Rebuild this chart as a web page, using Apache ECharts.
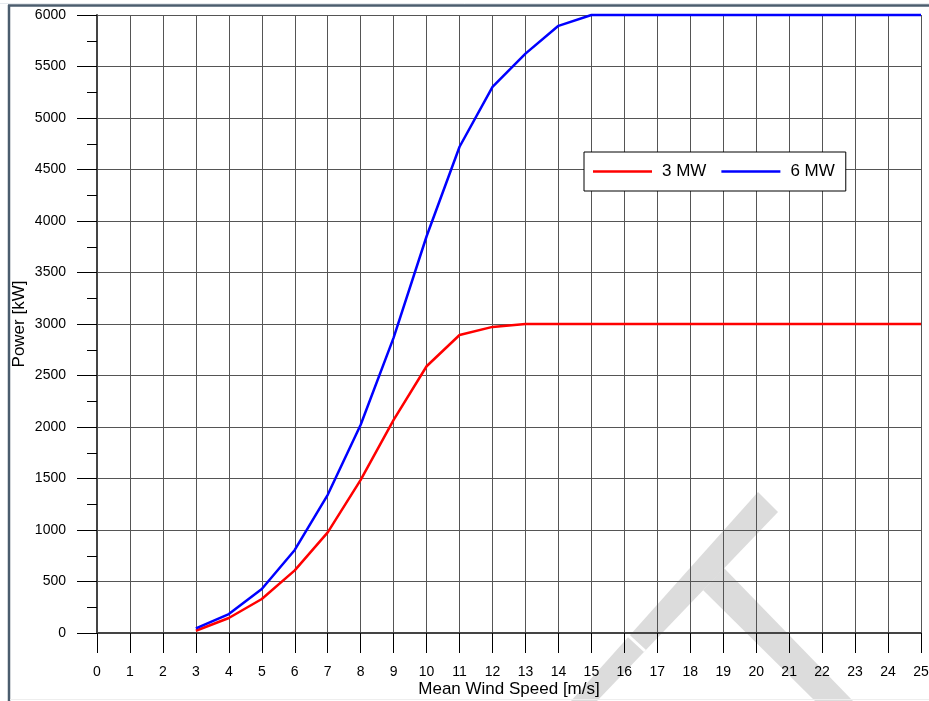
<!DOCTYPE html>
<html>
<head>
<meta charset="utf-8">
<style>
  html, body { margin: 0; padding: 0; background: #ffffff; }
  #chart { width: 929px; height: 701px; }
</style>
<script src="https://cdn.jsdelivr.net/npm/echarts@6/dist/echarts.min.js"></script>
</head>
<body>
<div id="chart"></div>
<script>
// ---- data ----
const windSpeed = [3, 4, 5, 6, 7, 8, 9, 10, 11, 12, 13, 14, 15, 16, 17, 18, 19, 20, 21, 22, 23, 24, 25];
const power3MW = [22, 146, 330, 608, 977, 1487, 2070, 2590, 2893, 2972, 3000, 3000, 3000, 3000, 3000, 3000, 3000, 3000, 3000, 3000, 3000, 3000, 3000];
const power6MW = [45, 184, 427, 806, 1342, 2022, 2868, 3852, 4721, 5302, 5625, 5895, 6000, 6000, 6000, 6000, 6000, 6000, 6000, 6000, 6000, 6000, 6000];
const seriesNames = ['3 MW', '6 MW'];
const xAxisTitle = 'Mean Wind Speed [m/s]';
const yAxisTitle = 'Power [kW]';

const FONT = '"Liberation Sans", Arial, sans-serif';

const chart = echarts.init(document.getElementById('chart'), null, { renderer: 'canvas' });

const option = {
  backgroundColor: '#ffffff',
  animation: false,
  grid: { left: 97, right: 8, top: 15, bottom: 68, containLabel: false, outerBoundsMode: 'none' },
  legend: {
    left: 584, top: 152,
    orient: 'horizontal',
    backgroundColor: '#ffffff',
    borderColor: '#000000', borderWidth: 1, borderRadius: 0,
    padding: [11, 11, 11, 9],
    itemGap: 15,
    itemWidth: 59, itemHeight: 2.5,
    icon: 'rect',
    textStyle: { fontFamily: FONT, fontSize: 17, color: '#000', padding: [0, 0, 0, 5] },
    data: seriesNames
  },
  xAxis: {
    type: 'value', min: 0, max: 25, interval: 1,
    name: xAxisTitle, nameLocation: 'middle', nameGap: 48, nameMoveOverlap: false,
    nameTextStyle: { fontFamily: FONT, fontSize: 17, color: '#000' },
    axisLine: { show: true, onZero: false, lineStyle: { color: '#444', width: 2 } },
    axisTick: { show: true, inside: false, length: 20, lineStyle: { color: '#000', width: 1 } },
    axisLabel: { margin: 32, fontFamily: FONT, fontSize: 14, color: '#000', formatter: v => String(v) },
    splitLine: { show: true, lineStyle: { color: '#555', width: 1 } }
  },
  yAxis: {
    type: 'value', min: 0, max: 6000, interval: 500,
    name: yAxisTitle, nameLocation: 'middle', nameGap: 69, nameRotate: 90, nameMoveOverlap: false,
    nameTextStyle: { fontFamily: FONT, fontSize: 17, color: '#000' },
    axisLine: { show: true, onZero: false, lineStyle: { color: '#444', width: 2 } },
    axisTick: { show: true, inside: false, length: 20, lineStyle: { color: '#000', width: 1 } },
    minorTick: { show: true, splitNumber: 2, length: 10, lineStyle: { color: '#000', width: 1 } },
    axisLabel: { margin: 31, fontFamily: FONT, fontSize: 14, color: '#000', formatter: v => String(v) },
    splitLine: { show: true, lineStyle: { color: '#555', width: 1 } }
  },
  series: [
    {
      name: seriesNames[0], type: 'line',
      data: windSpeed.map((w, i) => [w, power3MW[i]]),
      showSymbol: false, symbol: 'none', clip: false,
      lineStyle: { color: '#ff0000', width: 2.5 }, itemStyle: { color: '#ff0000' },
      z: 5
    },
    {
      name: seriesNames[1], type: 'line',
      data: windSpeed.map((w, i) => [w, power6MW[i]]),
      showSymbol: false, symbol: 'none', clip: false,
      lineStyle: { color: '#0000ff', width: 2.5 }, itemStyle: { color: '#0000ff' },
      z: 5
    }
  ],
  graphic: [
    // light watermark behind the grid
    { type: 'polygon', z: -10, silent: true,
      shape: { points: [[758, 492], [778, 512], [597, 701], [571, 701]] },
      style: { fill: '#dcdcdc' } },
    { type: 'polygon', z: -10, silent: true,
      shape: { points: [[724, 568], [853, 701], [815, 701], [703, 590]] },
      style: { fill: '#dcdcdc' } },
    { type: 'line', z: -9, silent: true,
      shape: { x1: 619, y1: 627, x2: 645, y2: 651 },
      style: { stroke: '#ffffff', lineWidth: 3 } },
    // outer frame
    { type: 'line', z: 20, silent: true,
      shape: { x1: 0, y1: 3.5, x2: 929, y2: 3.5 },
      style: { stroke: '#e6eaee', lineWidth: 1 } },
    { type: 'line', z: 20, silent: true,
      shape: { x1: 8, y1: 5.5, x2: 929, y2: 5.5 },
      style: { stroke: '#4b5d6e', lineWidth: 2.5 } },
    { type: 'line', z: 20, silent: true,
      shape: { x1: 9, y1: 5, x2: 9, y2: 701 },
      style: { stroke: '#4b5d6e', lineWidth: 2.5 } },
    { type: 'line', z: 20, silent: true,
      shape: { x1: 10, y1: 699.5, x2: 929, y2: 699.5 },
      style: { stroke: '#eeeeee', lineWidth: 1 } }
  ]
};

chart.setOption(option);
</script>
</body>
</html>
